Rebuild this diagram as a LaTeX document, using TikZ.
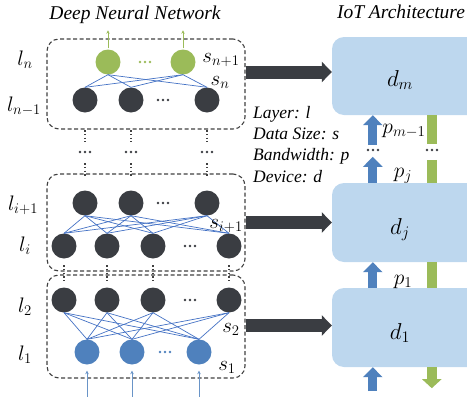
\RequirePackage{fix-cm}
\documentclass[tikz,border=0pt]{standalone}
\usepackage{fontspec}
\setmainfont{Liberation Serif}
\usetikzlibrary{arrows.meta,calc}
\definecolor{darkc}{HTML}{3A3D42}
\definecolor{greenc}{HTML}{9BBB59}
\definecolor{bluec}{HTML}{4F81BD}
\definecolor{wirec}{HTML}{4472C4}
\definecolor{iotc}{HTML}{BDD7EE}
\definecolor{dashc}{HTML}{404040}
\begin{document}
\begin{tikzpicture}[x=1pt,y=-1pt,
  neuron/.style={circle,minimum size=25pt,inner sep=0pt},
  dk/.style={neuron,fill=darkc},
  gn/.style={neuron,fill=greenc},
  bl/.style={neuron,fill=bluec},
  wire/.style={wirec,line width=0.7pt},
  layerbox/.style={draw=dashc,line width=1.1pt,dash pattern=on 4pt off 2.5pt,rounded corners=12pt,inner sep=0pt},
  iot/.style={fill=iotc,rounded corners=12pt,inner sep=0pt},
  bigarrow/.style={darkc,line width=13pt,-{Triangle[length=10pt,width=20pt]}},
  uparrow/.style={bluec,line width=9pt,-{Triangle[length=10pt,width=19pt]}},
  gbar/.style={greenc,line width=10pt},
  garrow/.style={greenc,line width=10pt,-{Triangle[length=9pt,width=19pt]}},
  thinup/.style={line width=0.8pt,-{Stealth[length=3.5pt,width=3.5pt]}},
  vdots/.style={dashc,line width=1.5pt,dash pattern=on 1.5pt off 2.3pt},
  mlab/.style={font=\fontsize{21}{21}\selectfont,anchor=base,inner sep=0pt},
  dlab/.style={font=\fontsize{23}{23}\selectfont,anchor=base,inner sep=0pt},
  plab/.style={font=\fontsize{21.5}{22}\selectfont,anchor=base,inner sep=0pt},
  title/.style={font=\fontsize{19.5}{20}\selectfont\itshape,anchor=base,inner sep=0pt},
  hd/.pic={\fill (-5,0) circle (1.4pt) (0,0) circle (1.4pt) (5,0) circle (1.4pt);}
]
\path[use as bounding box] (0,0) rectangle (467,397);
\clip (0,0) rectangle (467,397);

% titles
\node[title] (t1) at (135,19) {Deep Neural Network};
\node[title] (t2) at (401,18) {IoT Architecture};

% layer boxes
\node[layerbox,minimum width=198pt,minimum height=90pt] (boxn) at (146,84) {};
\node[layerbox,minimum width=198pt,minimum height=97pt] (boxi) at (146,222.5) {};
\node[layerbox,minimum width=198pt,minimum height=103pt] (boxb) at (146,326.5) {};

% neurons
\node[gn] (g1) at (108,62) {};
\node[gn] (g2) at (183,62) {};
\node[dk] (n1) at (85,100) {};
\node[dk] (n2) at (131,100) {};
\node[dk] (n3) at (207,100) {};
\node[dk] (u1) at (85,203) {};
\node[dk] (u2) at (131,203) {};
\node[dk] (u3) at (207,203) {};
\node[dk] (v1) at (64,246) {};
\node[dk] (v2) at (107,246) {};
\node[dk] (v3) at (153,246) {};
\node[dk] (v4) at (229,246) {};
\node[dk] (w1) at (64,300) {};
\node[dk] (w2) at (107,300) {};
\node[dk] (w3) at (153,300) {};
\node[dk] (w4) at (229,300) {};
\node[bl] (b1) at (87,352) {};
\node[bl] (b2) at (132,352) {};
\node[bl] (b3) at (199,352) {};

% wires
\foreach \a in {g1,g2} \foreach \b in {n1,n2,n3} \draw[wire] (\a.south) -- (\b.north);
\foreach \a in {u1,u2,u3} \foreach \b in {v1,v2,v3,v4} \draw[wire] (\a.south) -- (\b.north);
\foreach \a in {w1,w2,w3,w4} \foreach \b in {b1,b2,b3} \draw[wire] (\a.south) -- (\b.north);

% ellipses in layers
\pic[greenc] at (145,62) {hd};
\pic[darkc] at (163,100) {hd};
\pic[darkc] at (163,203) {hd};
\pic[darkc] at (190,246) {hd};
\pic[darkc] at (190,300) {hd};
\pic[bluec] at (165,352) {hd};

% vertical dots between boxes
\foreach \x in {85,131,207} {
  \draw[vdots] (\x,130) -- (\x,142);
  \pic[darkc] at (\x,152) {hd};
  \draw[vdots] (\x,163) -- (\x,178);
}
\foreach \x in {64,107,153,229} \draw[vdots] (\x,265) -- (\x,281);

% small in/out arrows
\foreach \g in {g1,g2} \draw[thinup,greenc] ([yshift=1pt]\g.north) -- ([yshift=19pt]\g.north);
\foreach \b in {b1,b2,b3} \draw[thinup,bluec!85] ([yshift=-35pt]\b.south) -- ([yshift=-6pt]\b.south);

% layer labels
\node[mlab] (ln) at (25,65) {$l_n$};
\node[mlab] (lnm) at (24,111) {$l_{n-1}$};
\node[mlab] (lip) at (23,210) {$l_{i+1}$};
\node[mlab] (li) at (25,251) {$l_i$};
\node[mlab] (l2) at (25,312) {$l_2$};
\node[mlab] (l1) at (25,360) {$l_1$};
% size labels
\node[mlab] (snp) at (221,62) {$s_{n+1}$};
\node[mlab] (sn) at (220,85) {$s_n$};
\node[mlab] (sip) at (226,228) {$s_{i+1}$};
\node[mlab] (s2) at (231,332) {$s_2$};
\node[mlab] (s1) at (227,370) {$s_1$};

% IoT devices
\node[iot,minimum width=160pt,minimum height=78pt] (dm) at (412,76) {};
\node[iot,minimum width=160pt,minimum height=79pt] (dj) at (412,222.5) {};
\node[iot,minimum width=160pt,minimum height=79pt] (d1) at (412,327.5) {};
\node[dlab] (dmt) at (400,86) {$d_m$};
\node[dlab] (djt) at (400,234) {$d_j$};
\node[dlab] (d1t) at (400,339) {$d_1$};

% mapping arrows
\draw[bigarrow] ([yshift=12pt]boxn.east) -- ([yshift=12pt]boxn.east -| dm.west);
\draw[bigarrow] (boxi.east) -- (boxi.east -| dj.west);
\draw[bigarrow] ([yshift=1pt]boxb.east) -- ([yshift=1pt]boxb.east -| d1.west);

% bandwidth arrows
\draw[uparrow] ([xshift=41pt,yshift=-30pt]dm.south west) -- ([xshift=41pt]dm.south west);
\draw[uparrow] ([xshift=41pt]dj.north west) -- ([xshift=41pt,yshift=26pt]dj.north west);
\draw[uparrow] ([xshift=41pt]d1.north west) -- ([xshift=41pt]dj.south west);
\draw[uparrow] ([xshift=41pt,yshift=-24pt]d1.south west) -- ([xshift=41pt]d1.south west);
\pic[darkc] at (373,150) {hd};

% green return path
\draw[gbar] ([xshift=100pt]dm.south west) -- ([xshift=100pt,yshift=-29pt]dm.south west);
\draw[gbar] ([xshift=100pt,yshift=23pt]dj.north west) -- ([xshift=100pt]dj.north west);
\draw[gbar] ([xshift=100pt]dj.south west) -- ([xshift=100pt]d1.north west);
\draw[garrow] ([xshift=100pt]d1.south west) -- ([xshift=100pt,yshift=-21pt]d1.south west);
\pic[darkc] at (432,150) {hd};

% bandwidth labels
\node[plab] (pm) at (404,133) {$p_{m-1}$};
\node[plab] (pj) at (403,177) {$p_j$};
\node[plab] (p1) at (403,284) {$p_1$};

% legend
\node[font=\fontsize{17.5}{21.3}\selectfont\itshape,align=left,anchor=north west,inner sep=0pt] (legend) at (253,106)
  {Layer: l\\Data Size: s\\Bandwidth: p\\Device: d};
\end{tikzpicture}
\end{document}
